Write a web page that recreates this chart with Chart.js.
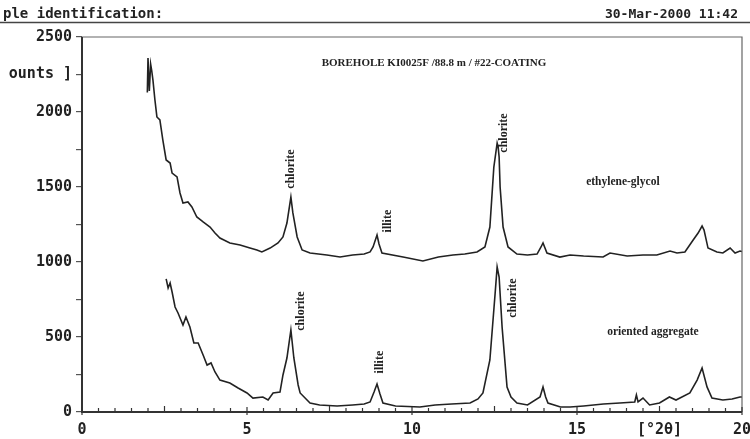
<!DOCTYPE html>
<html>
<head>
<meta charset="utf-8">
<script src="https://cdn.jsdelivr.net/npm/chart.js@4/dist/chart.umd.min.js"></script>
<style>
  html, body { margin: 0; padding: 0; background: #fff; }
  canvas { display: block; }
</style>
</head>
<body>
<canvas id="xrd" width="750" height="439"></canvas>
<script>
// ethylene-glycol treated sample (upper trace)
var glycolTheta = [1.98, 2.0, 2.04, 2.08, 2.11, 2.15, 2.21, 2.27, 2.36, 2.45, 2.55, 2.67, 2.73, 2.88, 2.97,
  3.06, 3.21, 3.33, 3.48, 3.67, 3.88, 4.03, 4.18, 4.48, 4.79, 5.09, 5.3, 5.45, 5.7, 5.94, 6.09, 6.21,
  6.33, 6.39, 6.52, 6.67, 6.91, 7.42, 7.82, 8.2, 8.55, 8.73, 8.82, 8.94, 9.0, 9.09, 9.73, 10.33, 10.8,
  11.24, 11.6, 11.97, 12.21, 12.36, 12.48, 12.58, 12.61, 12.64, 12.67, 12.76, 12.91, 13.18, 13.5, 13.79,
  13.91, 13.97, 14.09, 14.48, 14.79, 15.2, 15.79, 16.0, 16.52, 17.0, 17.42, 17.82, 18.03, 18.27, 18.52,
  18.67, 18.79, 18.85, 18.97, 19.24, 19.42, 19.64, 19.79, 19.94, 20.0];
var glycolCounts = [2130, 2360, 2140, 2320, 2280, 2213, 2080, 1967, 1947, 1813, 1680, 1660, 1593, 1567, 1460,
  1393, 1400, 1367, 1300, 1267, 1233, 1193, 1160, 1127, 1113, 1093, 1080, 1067, 1093, 1127, 1167, 1260,
  1433, 1327, 1167, 1080, 1060, 1047, 1033, 1047, 1053, 1067, 1100, 1180, 1120, 1060, 1033, 1007, 1033,
  1047, 1053, 1067, 1100, 1233, 1633, 1793, 1767, 1700, 1500, 1233, 1100, 1053, 1047, 1053,
  1100, 1127, 1060, 1033, 1047, 1040, 1033, 1060, 1040, 1047, 1047, 1073, 1060, 1067, 1147,
  1193, 1240, 1213, 1093, 1067, 1060, 1093, 1060, 1073, 1070];

// oriented aggregate (lower trace)
var orientedTheta = [2.55, 2.61, 2.67, 2.73, 2.82, 2.91, 3.06, 3.15, 3.27, 3.39, 3.52, 3.67, 3.79, 3.91, 4.03,
  4.18, 4.48, 4.73, 5.0, 5.18, 5.48, 5.64, 5.79, 6.0, 6.09, 6.21, 6.33, 6.42, 6.55, 6.61, 6.91, 7.2, 7.73,
  8.2, 8.55, 8.73, 8.85, 8.94, 9.03, 9.12, 9.5, 10.24, 10.7, 11.2, 11.76, 12.0, 12.15, 12.36, 12.52,
  12.58, 12.64, 12.73, 12.88, 13.0, 13.18, 13.5, 13.88, 13.97, 14.05, 14.12, 14.5, 14.79, 15.2, 15.8,
  16.3, 16.75, 16.8, 16.85, 17.0, 17.2, 17.5, 17.8, 18.0, 18.42, 18.64, 18.79, 18.94, 19.09, 19.42,
  19.7, 19.94, 20.0];
var orientedCounts = [887, 827, 860, 800, 700, 660, 580, 633, 567, 460, 460, 380, 313, 327, 267,
  213, 193, 160, 127, 93, 100, 80, 127, 133, 247, 360, 547, 360, 180, 127, 60, 47, 40,
  47, 53, 67, 133, 187, 120, 60, 40, 33, 47, 53, 60, 87, 127, 347, 793,
  967, 900, 567, 167, 100, 60, 47, 100, 167, 100, 60, 33, 33, 40, 53,
  60, 67, 113, 67, 93, 47, 60, 100, 80, 127, 213, 293, 167, 93, 80,
  87, 100, 100];

// peak identifications, written vertically next to the peaks
var peakNames = ['chlorite', 'illite', 'chlorite', 'chlorite', 'illite', 'chlorite'];
var peakTheta = [6.33, 9.27, 12.8, 6.64, 9.03, 13.06];
var peakCounts = [1620, 1273, 1860, 673, 333, 760];

// sample labels for the two traces
var traceNames = ['ethylene-glycol', 'oriented aggregate'];
var traceTheta = [16.39, 17.3];
var traceCounts = [1533, 533];

var chartTitle = 'BOREHOLE KI0025F /88.8 m / #22-COATING';
var headerLeft = 'ple identification:';
var headerRight = '30-Mar-2000 11:42';

var monoFont = '"DejaVu Sans Mono", monospace';
var serifFont = '"Liberation Serif", "DejaVu Serif", serif';
var ink = '#222';

function toPoints(xs, ys) {
  return xs.map(function (x, i) {
    return { x: x, y: ys[i] };
  });
}

function stepTicks(scale, step) {
  var ticks = [];
  for (var v = scale.min; v <= scale.max + 1e-9; v += step) {
    ticks.push({ value: Math.round(v * 100) / 100 });
  }
  scale.ticks = ticks;
}

// box, inward x ticks, header and all the text annotations
var decorations = {
  id: 'decorations',
  afterDraw: function (chart) {
    var ctx = chart.ctx;
    var area = chart.chartArea;
    var xs = chart.scales.x;
    var ys = chart.scales.y;

    ctx.save();

    // header rule and texts
    ctx.strokeStyle = '#444';
    ctx.lineWidth = 1.5;
    ctx.beginPath();
    ctx.moveTo(0, 22.5);
    ctx.lineTo(chart.width, 22.5);
    ctx.stroke();

    ctx.fillStyle = ink;
    ctx.font = 'bold 14px ' + monoFont;
    ctx.textBaseline = 'alphabetic';
    ctx.textAlign = 'left';
    ctx.fillText(headerLeft, 3, 18);
    ctx.font = 'bold 13px ' + monoFont;
    ctx.textAlign = 'right';
    ctx.fillText(headerRight, 738, 18);

    // frame
    ctx.strokeStyle = '#666';
    ctx.lineWidth = 1.2;
    ctx.beginPath();
    ctx.moveTo(area.left, area.top);
    ctx.lineTo(area.right, area.top);
    ctx.lineTo(area.right, area.bottom);
    ctx.stroke();
    ctx.strokeStyle = '#333';
    ctx.lineWidth = 2;
    ctx.beginPath();
    ctx.moveTo(area.left, area.top);
    ctx.lineTo(area.left, area.bottom);
    ctx.lineTo(area.right, area.bottom);
    ctx.stroke();

    // x ticks point up into the plot
    ctx.lineWidth = 1.2;
    xs.ticks.forEach(function (t) {
      var px = xs.getPixelForValue(t.value);
      var up = 4, down = 0;
      if (t.value % 5 === 0) { up = 5; down = 3; }
      else if (t.value % 2.5 === 0) { up = 6; }
      ctx.beginPath();
      ctx.moveTo(px, area.bottom - up);
      ctx.lineTo(px, area.bottom + down);
      ctx.stroke();
    });

    // title
    ctx.fillStyle = ink;
    ctx.font = 'bold 11px ' + serifFont;
    ctx.textAlign = 'center';
    ctx.textBaseline = 'middle';
    ctx.fillText(chartTitle, 434, 63);

    // trace names
    ctx.font = 'bold 11.5px ' + serifFont;
    traceNames.forEach(function (name, i) {
      ctx.fillText(name, xs.getPixelForValue(traceTheta[i]), ys.getPixelForValue(traceCounts[i]));
    });

    // peak names
    ctx.font = 'bold 12px ' + serifFont;
    peakNames.forEach(function (name, i) {
      ctx.save();
      ctx.translate(xs.getPixelForValue(peakTheta[i]), ys.getPixelForValue(peakCounts[i]));
      ctx.rotate(-Math.PI / 2);
      ctx.fillText(name, 0, 0);
      ctx.restore();
    });

    ctx.restore();
  }
};

var lineStyle = {
  borderColor: ink,
  borderWidth: 1.6,
  pointRadius: 0,
  tension: 0,
  fill: false
};

new Chart(document.getElementById('xrd').getContext('2d'), {
  type: 'line',
  data: {
    datasets: [
      Object.assign({ label: traceNames[0], data: toPoints(glycolTheta, glycolCounts) }, lineStyle),
      Object.assign({ label: traceNames[1], data: toPoints(orientedTheta, orientedCounts) }, lineStyle)
    ]
  },
  options: {
    responsive: false,
    animation: false,
    devicePixelRatio: 1,
    layout: { padding: { top: 37, right: 8, left: 0, bottom: 0 } },
    plugins: {
      legend: { display: false },
      tooltip: { enabled: false }
    },
    scales: {
      x: {
        type: 'linear',
        min: 0,
        max: 20,
        afterBuildTicks: function (scale) { stepTicks(scale, 0.5); },
        afterFit: function (scale) {
          scale.height = 27;
          scale.paddingLeft = 0;
          scale.paddingRight = 0;
        },
        grid: { display: false },
        border: { display: false },
        ticks: {
          autoSkip: false,
          maxRotation: 0,
          padding: 1,
          color: ink,
          font: { family: monoFont, weight: 'bold', size: 15 },
          callback: function (v) {
            if (v % 5 === 0) return String(v);
            if (v === 17.5) return '[°2θ]';
            return '';
          }
        }
      },
      y: {
        min: 0,
        max: 2500,
        afterBuildTicks: function (scale) { stepTicks(scale, 250); },
        afterFit: function (scale) {
          scale.width = 82;
          scale.paddingTop = 0;
          scale.paddingBottom = 0;
        },
        grid: { drawOnChartArea: false, tickLength: 6, color: '#555', lineWidth: 1.2 },
        border: { display: false },
        ticks: {
          autoSkip: false,
          padding: 4,
          color: ink,
          font: { family: monoFont, weight: 'bold', size: 15 },
          callback: function (v) {
            if (v === 2250) return 'ounts ]';
            return v % 500 === 0 ? String(v) : '';
          }
        }
      }
    }
  },
  plugins: [decorations]
});
</script>
</body>
</html>
